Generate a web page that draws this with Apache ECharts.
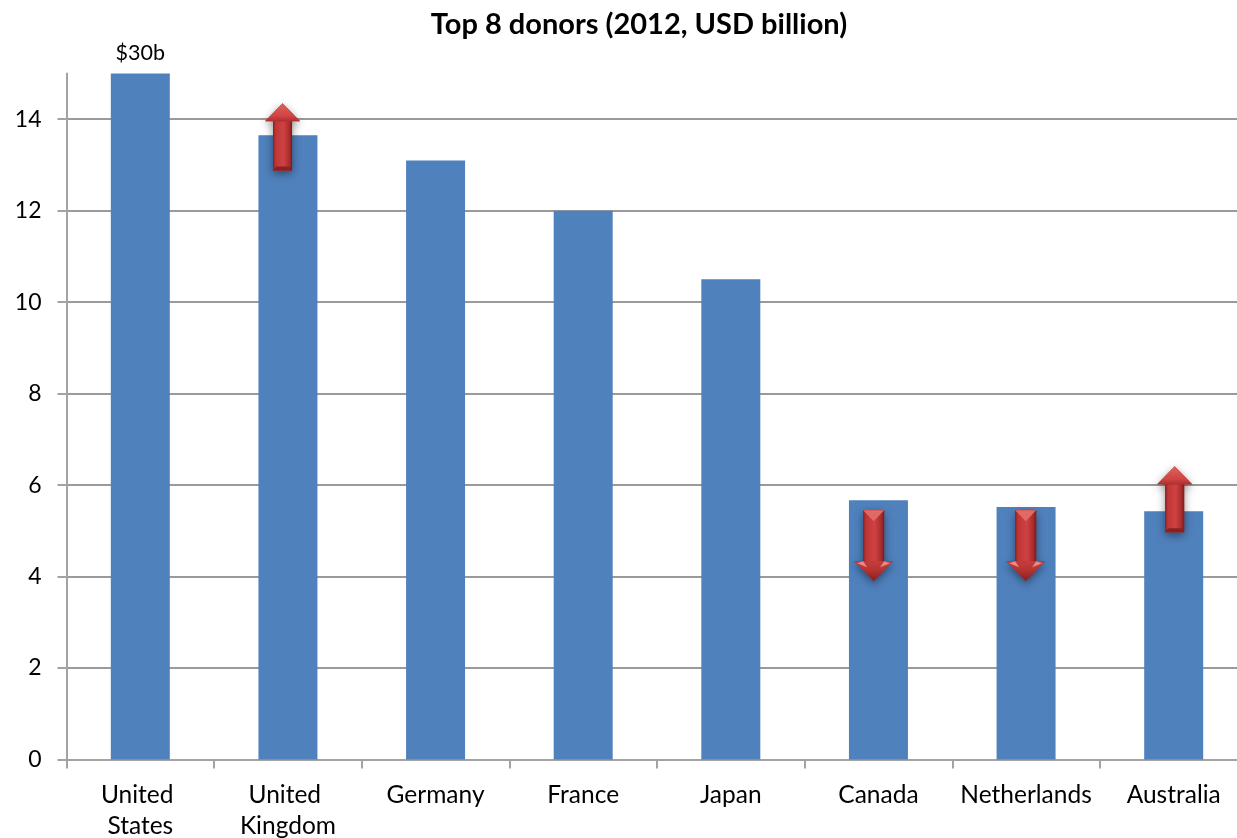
<!DOCTYPE html>
<html>
<head>
<meta charset="utf-8">
<title>Top 8 donors</title>
<style>
html,body{margin:0;padding:0;background:#fff;}
#chart{width:1237px;height:838px;}
</style>
<script src="https://cdn.jsdelivr.net/npm/echarts@6/dist/echarts.min.js"></script>
</head>
<body>
<div id="chart"></div>
<script>
// Aid given in 2012, USD billion. The United States runs off the top of the axis.
const categories = ['United States', 'United Kingdom', 'Germany', 'France', 'Japan', 'Canada', 'Netherlands', 'Australia'];
const donorValues = [30, 13.65, 13.1, 12, 10.5, 5.67, 5.52, 5.43];
const yTicks = [0, 2, 4, 6, 8, 10, 12, 14];
const cappedLabels = { 'United States': '$30b' };

// Trend arrows: category, tail value, tip value.
const trendCategories = ['United Kingdom', 'Canada', 'Netherlands', 'Australia'];
const trendTails = [12.88, 5.45, 5.45, 4.97];
const trendTips = [14.35, 3.9, 3.9, 6.41];

const FONT = 'Lato, "Open Sans", sans-serif';
const AXIS_GREY = '#a3a3a3';
const GRID_GREY = '#9a9a9a';
const NUDGE = { 'United Kingdom': -5.4, 'Canada': -4.8, 'Netherlands': -0.4, 'Australia': 1 };

function shaftFill() {
  return new echarts.graphic.LinearGradient(0, 0, 1, 0, [
    { offset: 0, color: '#8a1f1f' },
    { offset: 0.14, color: '#bf3636' },
    { offset: 0.55, color: '#cf4242' },
    { offset: 0.86, color: '#a82c2c' },
    { offset: 1, color: '#7a1a1a' }
  ]);
}

// Draws one bevelled arrow between its tail and tip values.
function renderTrendArrow(params, api) {
  const name = trendCategories[params.dataIndex];
  const base = api.coord([name, api.value(1)]);
  const tip = api.coord([name, api.value(2)]);
  const x = base[0] + NUDGE[name];
  const yTail = base[1];
  const yTip = tip[1];
  const up = yTip < yTail;
  const dir = up ? 1 : -1;
  const headLen = up ? 18 : 20;
  const headHalf = up ? 17.5 : 19.5;
  const shaftHalf = up ? 9.5 : 10.5;
  const yNeck = yTip + dir * headLen;

  const children = [];
  // silhouette carrying the soft drop shadow
  children.push({
    type: 'polygon',
    shape: { points: [
      [x, yTip], [x + headHalf, yNeck], [x + shaftHalf, yNeck], [x + shaftHalf, yTail],
      [x - shaftHalf, yTail], [x - shaftHalf, yNeck], [x - headHalf, yNeck]
    ] },
    style: { fill: '#a82c2c', shadowBlur: 8, shadowColor: 'rgba(0,0,0,0.45)', shadowOffsetY: 3 }
  });
  // shaft
  children.push({
    type: 'rect',
    shape: { x: x - shaftHalf, y: Math.min(yNeck, yTail), width: shaftHalf * 2, height: Math.abs(yTail - yNeck) },
    style: { fill: shaftFill() }
  });
  // bevel at the tail end of the shaft
  if (up) {
    children.push({
      type: 'polygon',
      shape: { points: [[x - shaftHalf, yTail], [x + shaftHalf, yTail], [x + shaftHalf - 3, yTail - 4], [x - shaftHalf + 3, yTail - 4]] },
      style: { fill: '#8a2020' }
    });
  } else {
    children.push({
      type: 'polygon',
      shape: { points: [[x - shaftHalf, yTail], [x + shaftHalf, yTail], [x, yTail + 11]] },
      style: { fill: '#e06a66' }
    });
  }
  // arrow head
  children.push({
    type: 'polygon',
    shape: { points: [[x, yTip], [x + headHalf, yNeck], [x - headHalf, yNeck]] },
    style: {
      fill: new echarts.graphic.LinearGradient(0, up ? 0 : 1, 0, up ? 1 : 0, up
        ? [{ offset: 0, color: '#e2605c' }, { offset: 0.7, color: '#d04444' }, { offset: 1, color: '#b02e2e' }]
        : [{ offset: 0, color: '#8a1f1f' }, { offset: 0.6, color: '#b83434' }, { offset: 1, color: '#c63c3c' }])
    }
  });
  if (!up) {
    // highlights on the two wings of a downward head
    [-1, 1].forEach(function (s) {
      children.push({
        type: 'polygon',
        shape: { points: [[x + s * (headHalf - 3), yNeck + 2], [x + s * shaftHalf, yNeck], [x + s * (shaftHalf - 4), yNeck + 6]] },
        style: { fill: '#ea8a84' }
      });
    });
  }
  return { type: 'group', children: children };
}

const chart = echarts.init(document.getElementById('chart'), null, { renderer: 'canvas' });

chart.setOption({
  animation: false,
  backgroundColor: '#ffffff',
  title: {
    text: 'Top 8 donors (2012, USD billion)',
    left: 634,
    top: 5,
    textAlign: 'center',
    textStyle: { fontFamily: FONT, fontSize: 29, fontWeight: 'bold', color: '#000000' }
  },
  grid: { left: 66.5, top: 73.5, width: 1181, height: 686, containLabel: false, outerBoundsMode: 'none' },
  xAxis: {
    type: 'category',
    data: categories,
    axisLine: { lineStyle: { color: AXIS_GREY, width: 2 } },
    axisTick: { show: true, length: 9, lineStyle: { color: AXIS_GREY, width: 2 } },
    axisLabel: {
      interval: 0,
      margin: 20,
      color: '#000000',
      fontFamily: FONT,
      fontSize: 24.5,
      lineHeight: 31,
      width: 145,
      overflow: 'break',
      hideOverlap: false
    },
    splitLine: { show: false }
  },
  yAxis: {
    type: 'value',
    min: 0,
    max: 15,
    interval: 2,
    axisLine: { show: true, lineStyle: { color: AXIS_GREY, width: 2 } },
    axisTick: { show: true, length: 9, customValues: yTicks, lineStyle: { color: AXIS_GREY, width: 2 } },
    axisLabel: { margin: 25, customValues: yTicks, color: '#000000', fontFamily: FONT, fontSize: 23 },
    splitLine: { show: true, showMaxLine: true, showMinLine: false, lineStyle: { color: GRID_GREY, width: 2 } }
  },
  series: [
    {
      type: 'bar',
      data: donorValues,
      barWidth: 59,
      itemStyle: { color: '#4f81bd' },
      label: {
        show: true,
        position: 'top',
        distance: 9,
        fontFamily: FONT,
        fontSize: 21.5,
        color: '#000000',
        formatter: function (p) { return cappedLabels[p.name] || ''; }
      },
      z: 3
    },
    {
      type: 'custom',
      renderItem: renderTrendArrow,
      encode: { x: 0, y: [1, 2] },
      data: trendCategories.map(function (c, i) { return [c, trendTails[i], trendTips[i]]; }),
      clip: false,
      silent: true,
      z: 5
    }
  ]
});
</script>
</body>
</html>
